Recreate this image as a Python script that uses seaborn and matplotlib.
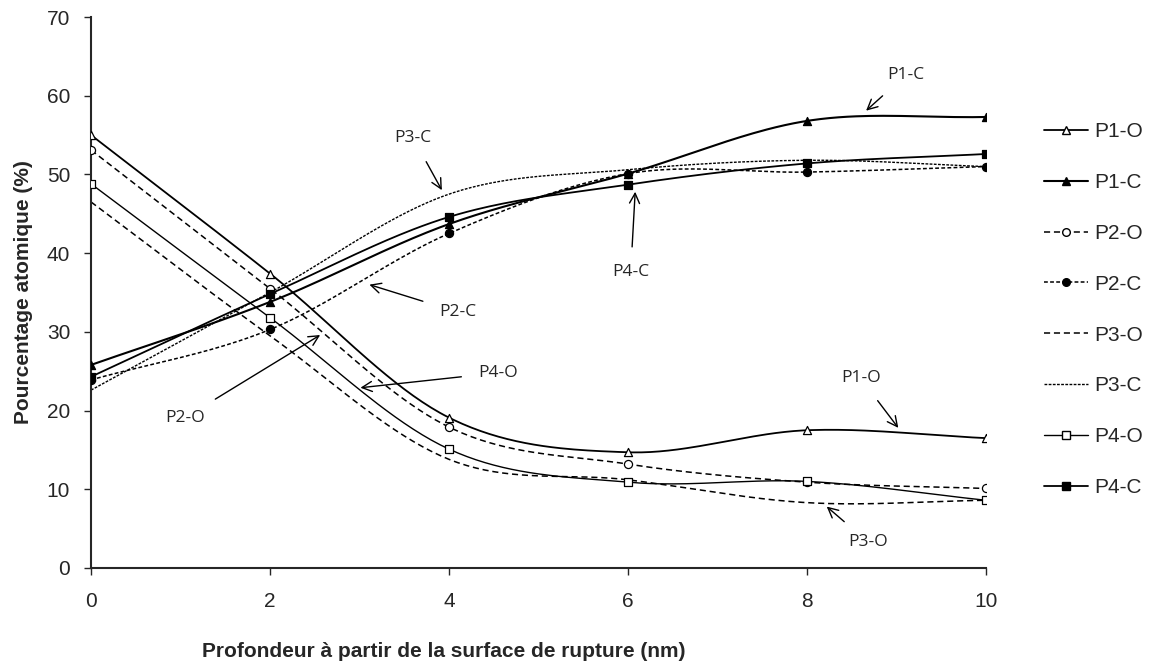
import numpy as np
import matplotlib
matplotlib.use("Agg")
import matplotlib.pyplot as plt
from matplotlib.lines import Line2D
import seaborn as sns

# depth (nm)
depth = [0, 2, 4, 6, 8, 10]

# atomic percentages
p1_o = [55.0, 37.4, 19.1, 14.7, 17.5, 16.5]
p1_c = [25.8, 33.8, 43.7, 50.1, 56.8, 57.3]
p2_o = [53.1, 35.5, 17.9, 13.2, 10.9, 10.1]
p2_c = [23.9, 30.3, 42.5, 50.1, 50.3, 51.0]
p3_o = [46.5, 29.5, 13.8, 11.2, 8.3, 8.6]
p3_c = [22.6, 35.0, 47.5, 50.6, 51.8, 51.0]
p4_o = [48.8, 31.8, 15.1, 10.9, 11.0, 8.6]
p4_c = [24.3, 34.8, 44.6, 48.7, 51.4, 52.6]

series = [
    ("P1-O", p1_o, "-", 1.3, "^", "white"),
    ("P1-C", p1_c, "-", 1.5, "^", "black"),
    ("P2-O", p2_o, (0, (4, 2.5)), 1.1, "o", "white"),
    ("P2-C", p2_c, (0, (2.5, 1.5)), 1.1, "o", "black"),
    ("P3-O", p3_o, (0, (4, 2.5)), 1.1, None, None),
    ("P3-C", p3_c, (0, (2, 1)), 1.0, None, None),
    ("P4-O", p4_o, "-", 1.0, "s", "white"),
    ("P4-C", p4_c, "-", 1.3, "s", "black"),
]

# annotation labels: (text, text pos, arrow tip)
notes = [
    ("P1-C", (9.1, 62.6), (8.66, 58.1)),
    ("P1-O", (8.6, 24.1), (9.02, 17.8)),
    ("P3-O", (8.68, 3.3), (8.22, 7.8)),
    ("P4-C", (6.03, 37.6), (6.08, 47.8)),
    ("P3-C", (3.6, 54.6), (3.92, 48.0)),
    ("P2-C", (4.1, 32.5), (3.11, 36.0)),
    ("P4-O", (4.55, 24.8), (3.01, 22.9)),
    ("P2-O", (1.05, 19.1), (2.56, 29.6)),
]


def smooth(x, y, n=40):
    # Catmull-Rom curve through the points, like Excel's smoothed lines
    x = np.asarray(x, float)
    y = np.asarray(y, float)
    px = np.concatenate([[2 * x[0] - x[1]], x, [2 * x[-1] - x[-2]]])
    py = np.concatenate([[2 * y[0] - y[1]], y, [2 * y[-1] - y[-2]]])
    ox, oy = [], []
    t = np.linspace(0, 1, n, endpoint=False)
    for i in range(1, len(px) - 2):
        for arr, out in ((px, ox), (py, oy)):
            p0, p1, p2, p3 = arr[i - 1], arr[i], arr[i + 1], arr[i + 2]
            out.extend(0.5 * ((2 * p1) + (-p0 + p2) * t
                              + (2 * p0 - 5 * p1 + 4 * p2 - p3) * t ** 2
                              + (-p0 + 3 * p1 - 3 * p2 + p3) * t ** 3))
    ox.append(x[-1])
    oy.append(y[-1])
    return np.array(ox), np.array(oy)


sns.set_style("ticks")
plt.rcParams["font.family"] = ["Liberation Sans", "DejaVu Sans"]

fig = plt.figure(figsize=(11.6, 6.65), dpi=100)
ax = fig.add_axes([0.0785, 0.1459, 0.7715, 0.8285])

handles = []
for name, vals, ls, lw, mk, fc in series:
    cx, cy = smooth(depth, vals)
    sns.lineplot(x=cx, y=cy, ax=ax, color="black", linestyle=ls, linewidth=lw,
                 sort=False, estimator=None)
    if mk is not None:
        sns.scatterplot(x=depth, y=vals, ax=ax, marker=mk, color=fc,
                        edgecolor="black", linewidth=0.9, s=34, zorder=5)
    handles.append(Line2D([], [], color="black", linestyle=ls, linewidth=lw,
                          marker=mk if mk else "", markersize=5.5,
                          markerfacecolor=fc if fc else "black",
                          markeredgecolor="black", label=name))

for txt, tpos, tip in notes:
    ax.annotate(txt, xy=tip, xytext=tpos, ha="center", va="center",
                fontsize=12.5, family=["Open Sans", "DejaVu Sans"],
                arrowprops=dict(arrowstyle="->", color="black", lw=1.0,
                                shrinkA=10, shrinkB=0, mutation_scale=18))

ax.set_xlim(0, 10)
ax.set_ylim(0, 70)
ax.set_xticks(range(0, 11, 2))
ax.set_yticks(range(0, 71, 10))
ax.tick_params(axis="both", labelsize=15, length=5, width=1, direction="out")
ax.tick_params(axis="x", pad=12)
ax.tick_params(axis="y", pad=10)
for side in ("top", "right"):
    ax.spines[side].set_visible(False)
for side in ("left", "bottom"):
    ax.spines[side].set_linewidth(1.5)

ax.set_xlabel("Profondeur à partir de la surface de rupture (nm)",
              fontsize=15, fontweight="bold")
ax.xaxis.set_label_coords(0.394, -0.135)
ax.set_ylabel("Pourcentage atomique (%)", fontsize=15, fontweight="bold")
ax.yaxis.set_label_coords(-0.065, 0.5)

fig.legend(handles=handles, loc="upper left", bbox_to_anchor=(0.893, 0.829),
           frameon=False, fontsize=15, labelspacing=1.53, handlelength=2.1,
           handletextpad=0.3, borderaxespad=0)

fig.savefig("out.png", dpi=100)
